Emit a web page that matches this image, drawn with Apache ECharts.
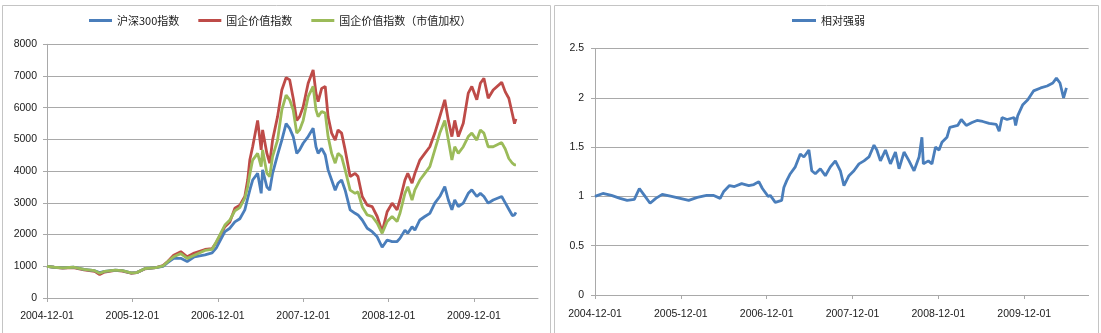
<!DOCTYPE html>
<html><head><meta charset="utf-8">
<script src="https://cdn.jsdelivr.net/npm/echarts@6/dist/echarts.min.js"></script>
<style>html,body{margin:0;padding:0;background:#fff}#c{width:1101px;height:333px}</style>
</head><body><div id="c"></div>
<script>
// x positions in months since 2004-12-01
const tickLabels = ['2004-12-01','2005-12-01','2006-12-01','2007-12-01','2008-12-01','2009-12-01'];
const tickMonths = [0,12,24,36,48,60];

const monthsL = [0,1,2.2,3.7,5.2,6.7,7.4,8.1,9.6,10.6,11.8,12.6,13.8,15.3,16.3,17,17.8,18.8,19.7,20.7,22.2,23.2,23.8,25,25.7,26.4,27.1,27.8,28.2,28.5,28.9,29.6,30.1,30.3,30.9,31.3,31.7,32.4,33,33.6,34.1,34.6,35.1,35.5,36,36.7,37.4,37.8,38.1,38.6,39.1,39.5,40,40.5,40.9,41.4,41.9,42.6,43.3,43.7,44.3,45,45.7,46.4,47.1,47.8,48.5,49.2,49.6,50.3,50.7,51.3,51.7,52.4,53.1,53.8,54.5,55.2,55.9,56.4,56.9,57.3,57.8,58.5,59.2,59.7,60.4,60.9,61.4,62,62.7,63.9,64.4,64.9,65.4,65.7,65.9];
const hs300 = [1000,970,950,970,900,860,800,840,880,860,790,800,930,960,1000,1120,1250,1250,1150,1300,1360,1420,1580,2090,2200,2400,2500,2780,3140,3400,3720,3930,3300,4040,3500,3400,3930,4510,4980,5500,5350,5090,4560,4670,4880,5090,5350,4770,4560,4720,4510,4040,3720,3400,3620,3720,3400,2780,2670,2620,2460,2200,2090,1930,1600,1830,1780,1780,1880,2140,2040,2250,2140,2460,2570,2670,2990,3200,3510,3090,2780,3090,2880,2990,3300,3410,3200,3300,3200,2990,3090,3200,3000,2800,2600,2620,2700];
const sowValue = [1000,970,940,960,890,840,740,820,870,850,780,800,920,960,1020,1160,1350,1460,1300,1420,1530,1560,1750,2250,2400,2830,2930,3200,3720,4350,4770,5600,4670,5300,4560,4250,4980,5720,6560,6950,6880,6300,5600,5720,6030,6770,7190,6460,6190,6610,6670,5720,5200,4980,5300,5200,4670,3830,3930,3830,3200,2930,2880,2570,2090,2720,2990,2780,3090,3720,3930,3620,3930,4350,4560,4770,5200,5720,6250,5600,5090,5600,5090,5510,6460,6670,6250,6770,6930,6300,6560,6800,6500,6300,5800,5500,5650];
const sowCap = [1000,970,950,970,900,860,780,840,880,860,790,800,930,960,1010,1150,1300,1400,1250,1350,1500,1530,1780,2300,2460,2750,2850,3150,3500,3900,4350,4560,4140,4670,3930,3830,4460,4980,5930,6400,6250,5930,5200,5300,5600,6350,6670,5930,5720,5880,5830,5090,4560,4250,4560,4460,4040,3400,3300,3350,2880,2620,2570,2360,2040,2410,2570,2410,2670,3300,3510,3090,3410,3720,3930,4140,4670,5200,5600,4980,4350,4770,4560,4770,5090,5200,4980,5300,5200,4770,4770,4900,4700,4400,4250,4200,4200];

const monthsR = [0,1.1,2.3,3.5,4.5,5.5,6.2,6.9,7.7,8.5,9.4,10.7,11.9,13.1,14.3,15.6,16.6,17.5,18,18.8,19.5,20.5,21.5,22.2,22.9,23.4,24.2,24.5,25.2,26.1,26.4,26.8,27.3,28,28.7,29.2,29.9,30.3,30.8,31.5,32.2,32.9,33.6,34.3,34.8,35.5,36.2,36.9,37.6,38.3,39,39.4,39.9,40.6,41.3,42,42.5,43.2,43.9,44.6,45.3,45.7,45.9,46.6,47.1,47.6,48.1,48.5,49.2,49.6,50.7,51.2,51.9,52.7,53.4,54.2,55.1,56.1,56.5,56.9,57.6,58.6,58.8,59.1,59.8,60.5,61.3,62.3,63.2,64,64.5,65,65.5,65.9];
const relStrength = [1.00,1.03,1.01,0.98,0.96,0.97,1.08,1.01,0.93,0.98,1.02,1.00,0.98,0.96,0.99,1.01,1.01,0.98,1.05,1.11,1.10,1.13,1.11,1.12,1.15,1.08,1.00,1.01,0.94,0.96,1.09,1.16,1.23,1.30,1.43,1.40,1.47,1.26,1.23,1.28,1.21,1.30,1.36,1.26,1.11,1.21,1.26,1.33,1.36,1.40,1.52,1.47,1.36,1.47,1.33,1.45,1.28,1.45,1.36,1.26,1.40,1.60,1.33,1.36,1.33,1.50,1.47,1.55,1.60,1.70,1.72,1.78,1.72,1.75,1.77,1.76,1.74,1.73,1.66,1.80,1.78,1.80,1.72,1.82,1.93,1.98,2.07,2.10,2.12,2.15,2.20,2.15,2.00,2.10];

const names = ['沪深300指数','国企价值指数','国企价值指数（市值加权）','相对强弱'];
const colors = ['#4a7ebb','#be4b48','#9bbb59','#4a7ebb'];

const pair = (xs, ys) => xs.map((x, i) => [x, ys[i]]);
const labelFont = {fontFamily:'Liberation Sans, sans-serif', fontSize:10.5, color:'#1a1a1a'};
const gridLine = {show:true, lineStyle:{color:'#a9a9a9', width:1}};
const axisLine = {show:true, lineStyle:{color:'#a9a9a9', width:1}};
const legendText = {fontFamily:'Noto Sans CJK SC', fontSize:11, color:'#1a1a1a'};

function xAxis(gi, margin) {
  return {
    type:'value', gridIndex:gi, min:0, max:69, interval:12,
    axisLine: axisLine, splitLine:{show:false},
    axisTick:{show:true, length:4, customValues: tickMonths, lineStyle:{color:'#a9a9a9'}},
    axisLabel:Object.assign({margin:margin, customValues: tickMonths,
      formatter: v => tickLabels[Math.round(v/12)] || ''}, labelFont)
  };
}
function lineSeries(i, xi, xs, ys, z) {
  return {name:names[i], type:'line', xAxisIndex:xi, yAxisIndex:xi, symbol:'none', showSymbol:false,
    data:pair(xs, ys), lineStyle:{width:2.8, color:colors[i]}, itemStyle:{color:colors[i]}, z:z};
}

const chart = echarts.init(document.getElementById('c'), null, {renderer:'canvas'});
chart.setOption({
  backgroundColor:'#ffffff',
  animation:false,
  graphic:[
    {type:'rect', shape:{x:2.5, y:5.5, width:548, height:340}, style:{fill:'none', stroke:'#c4c4c4', lineWidth:1}},
    {type:'rect', shape:{x:554.5, y:5.5, width:544, height:340}, style:{fill:'none', stroke:'#c4c4c4', lineWidth:1}}
  ],
  legend:[
    {data:names.slice(0,3).map(n => ({name:n, icon:'rect'})), left:89, top:15, padding:0, itemWidth:23, itemHeight:3, itemGap:19, textStyle:legendText},
    {data:[{name:names[3], icon:'rect'}], left:792, top:15, padding:0, itemWidth:24, itemHeight:3, textStyle:legendText}
  ],
  grid:[
    {left:47, top:44.3, width:491, height:253.7},
    {left:595, top:48.5, width:493.6, height:246.5}
  ],
  xAxis:[xAxis(0, 13), xAxis(1, 14)],
  yAxis:[
    {type:'value', gridIndex:0, min:0, max:8000, interval:1000,
     axisLine:axisLine, splitLine:gridLine,
     axisTick:{show:true, length:4, lineStyle:{color:'#a9a9a9'}},
     axisLabel:Object.assign({margin:10, formatter: v => String(v)}, labelFont)},
    {type:'value', gridIndex:1, min:0, max:2.5, interval:0.5,
     axisLine:axisLine, splitLine:gridLine,
     axisTick:{show:true, length:4, lineStyle:{color:'#a9a9a9'}},
     axisLabel:Object.assign({margin:11, formatter: v => String(v)}, labelFont)}
  ],
  series:[
    lineSeries(0, 0, monthsL, hs300, 4),
    lineSeries(1, 0, monthsL, sowValue, 3),
    lineSeries(2, 0, monthsL, sowCap, 5),
    lineSeries(3, 1, monthsR, relStrength, 3)
  ]
});
</script></body></html>
